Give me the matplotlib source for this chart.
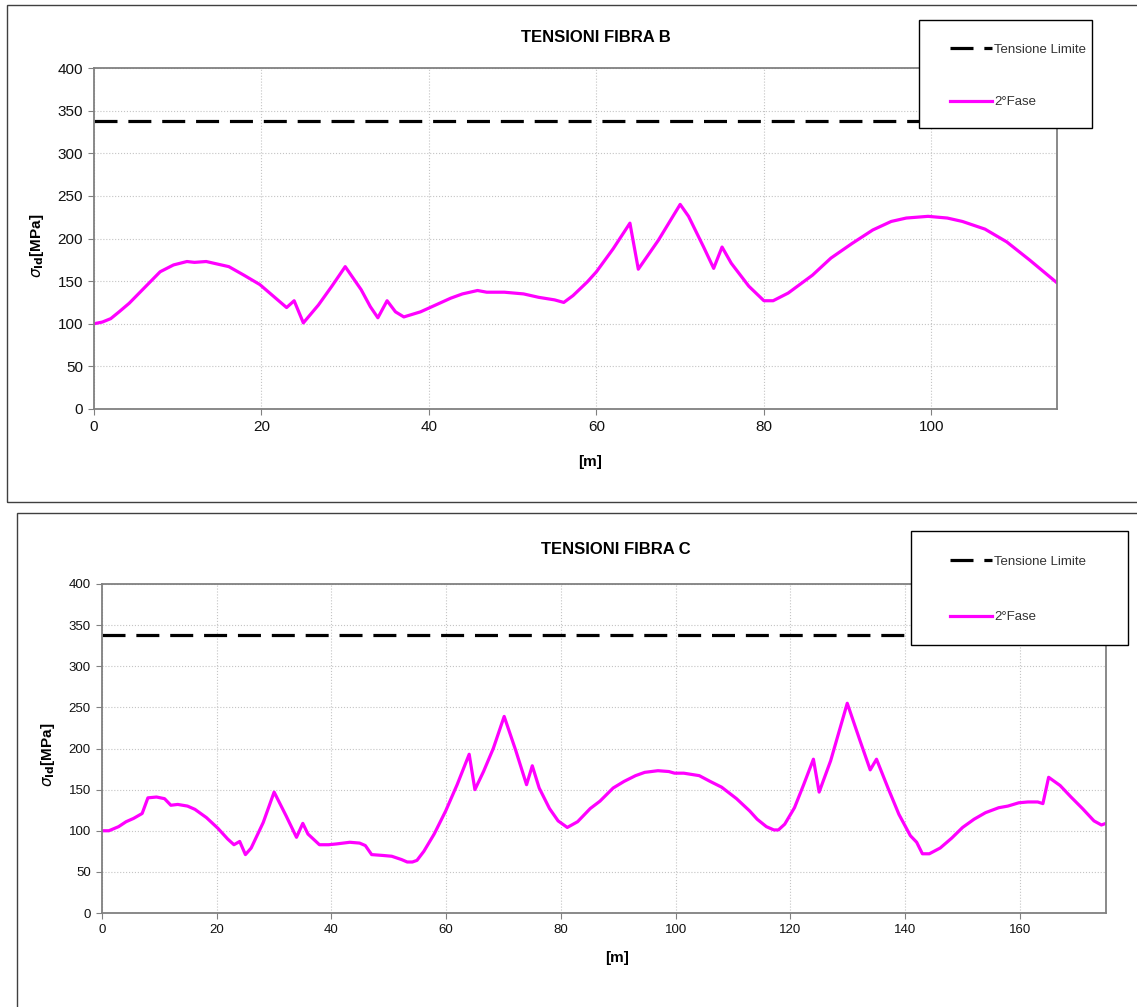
import matplotlib
matplotlib.use("Agg")
import matplotlib.pyplot as plt
from matplotlib.patches import Rectangle

plt.rcParams['font.family'] = ['Liberation Sans', 'DejaVu Sans']

# --- data ---
LIMIT = 338
B_x = [0, 1, 2, 3, 4.2, 5.8, 7.9, 9.5, 11.1, 12, 13.4, 16.1, 17.9, 19.8, 23, 23.9, 25, 26.8,
       28.4, 30, 31.9, 33, 33.9, 35, 36, 37, 39, 40.8, 42.6, 44, 45.8, 46.9, 49, 51.3, 53.1,
       55, 56.1, 57.2, 58.9, 60, 62, 64, 65, 67.4, 70, 71, 72.8, 74, 75, 76.1, 78.2, 80,
       81.1, 82.9, 85.8, 88, 90.5, 93, 95.2, 97, 99.6, 101.9, 103.7, 106.4, 109, 111.7, 115]
B_y = [100, 102, 106, 114, 124, 140, 161, 169, 173, 172, 173, 167, 157, 146, 119, 127, 101, 122,
       144, 167, 140, 120, 107, 127, 114, 108, 114, 122, 130, 135, 139, 137, 137, 135, 131,
       128, 125, 133, 149, 161, 188, 218, 164, 198, 240, 226, 190, 165, 190, 171, 144, 127,
       127, 136, 157, 177, 194, 210, 220, 224, 226, 224, 220, 211, 196, 175, 148]

C_x = [0, 1.2, 2.9, 4.2, 5.5, 7, 8, 9.5, 10.9, 12, 13.2, 14.9, 16.2, 18.2, 20.2, 21.9, 23, 24,
       25, 26, 28.1, 30, 32.1, 33.9, 35, 35.9, 37.9, 39.5, 40.9, 43.2, 44.9, 45.9, 47, 48.9,
       50.5, 52.2, 53.2, 54.1, 54.9, 56.1, 57.9, 59.9, 61.9, 64, 65, 66.5, 68.2, 70.1, 72.1,
       74, 75, 76.2, 78, 79.5, 81.1, 82.9, 85.1, 86.8, 89.1, 91, 93, 94.6, 96.9, 98.8, 99.8,
       101.4, 104.1, 106, 108, 110.6, 112.9, 114.2, 115.8, 117.1, 117.9, 119, 120.7, 122.3,
       124, 125, 127, 129.9, 132.1, 133.9, 135, 137, 138.9, 140.9, 142, 143, 144.2, 146.1,
       148.1, 150, 152, 154, 156.3, 157.9, 159.8, 161.4, 163.1, 164, 165, 167, 168.9, 170.9,
       172.9, 174.2, 175]
C_y = [100, 100, 105, 111, 115, 121, 140, 141, 139, 131, 132, 130, 126, 116, 103, 90, 83, 87,
       71, 79, 110, 147, 118, 92, 109, 96, 83, 83, 84, 86, 85, 82, 71, 70,
       69, 65, 62, 62, 64, 75, 96, 124, 156, 193, 150, 172, 200, 239, 198,
       156, 179, 152, 127, 112, 104, 111, 127, 136, 152, 160, 167, 171, 173, 172, 170,
       170, 167, 160, 153, 139, 124, 114, 105, 101, 101, 108, 128, 156,
       187, 147, 185, 255, 210, 174, 187, 152, 120, 94, 86, 72, 72, 79,
       91, 104, 114, 122, 128, 130, 134, 135, 135, 133, 165, 155, 141, 127,
       112, 107, 109]

W, H = 1137, 1007
fig = plt.figure(figsize=(W / 100, H / 100), dpi=100)


def fx(px):
    return px / W


def fy(py):
    return 1 - py / H


def panel(rect, x, y, xmax, title, title_pos, xl_pos, yl_pos, leg_box, leg_anchor, fs, spacing):
    ax = fig.add_axes(rect)
    ax.plot([0, xmax], [LIMIT, LIMIT], color='black', lw=2.3, dashes=(7.2, 3.4),
            label='Tensione Limite')
    ax.plot(x, y, color='#ff00ff', lw=2.3, label='2°Fase')
    ax.set_xlim(0, xmax)
    ax.set_ylim(0, 400)
    ax.set_yticks(range(0, 401, 50))
    ax.set_xticks(range(0, int(xmax) + 1, 20))
    ax.grid(True, color='#c4c4c4', linestyle=':', linewidth=0.8)
    for s in ax.spines.values():
        s.set_color('#808080')
        s.set_linewidth(1.3)
    ax.tick_params(direction='out', length=4, color='#808080', labelsize=fs, pad=4,
                   labelcolor='#111111')
    ax.set_xlabel('[m]', fontsize=11, fontweight='bold')
    ax.xaxis.set_label_coords(*xl_pos)
    ax.xaxis.label.set_va('center')
    ax.set_ylabel(r'$\sigma_{\mathbf{Id}}$[MPa]', fontsize=11, fontweight='bold')
    ax.yaxis.set_label_coords(*yl_pos)
    ax.yaxis.label.set_va('center')
    fig.text(title_pos[0], title_pos[1], title, ha='center', va='center',
             fontsize=12, fontweight='bold')
    # legend box
    fig.add_artist(Rectangle((leg_box[0], leg_box[1]), leg_box[2], leg_box[3],
                             transform=fig.transFigure, facecolor='white',
                             edgecolor='black', lw=1.0, zorder=5))
    h, l = ax.get_legend_handles_labels()
    leg = fig.legend(h, l, loc='upper left', bbox_to_anchor=leg_anchor, frameon=False,
                     fontsize=9.5, borderpad=0, handlelength=3.2, handletextpad=0.2,
                     labelspacing=spacing, labelcolor='#333333')
    leg.set_zorder(6)
    return ax


# panel frames
fig.add_artist(Rectangle((fx(7), fy(502)), 1.0, fy(5) - fy(502), transform=fig.transFigure,
                         facecolor='none', edgecolor='#404040', lw=1.0))
fig.add_artist(Rectangle((fx(17), fy(1007) - 0.01), 1.0, fy(513) - fy(1007) + 0.01,
                         transform=fig.transFigure, facecolor='none', edgecolor='#404040', lw=1.0))

panel([fx(94), fy(409), fx(1057) - fx(94), fy(68) - fy(409)], B_x, B_y, 115,
      'TENSIONI FIBRA B', (fx(596), fy(37)), (0.515, -0.155), (-0.059, 0.48),
      (fx(919), fy(128), fx(1092) - fx(919), fy(20) - fy(128)), (fx(943), fy(37)), 11, 3.05)

panel([fx(102), fy(913), fx(1106) - fx(102), fy(584) - fy(913)], C_x, C_y, 175,
      'TENSIONI FIBRA C', (fx(616), fy(550)), (0.513, -0.137), (-0.054, 0.48),
      (fx(911), fy(645), fx(1128) - fx(911), fy(531) - fy(645)), (fx(943), fy(549)), 9.5, 3.28)

fig.savefig('out.png', dpi=100)
